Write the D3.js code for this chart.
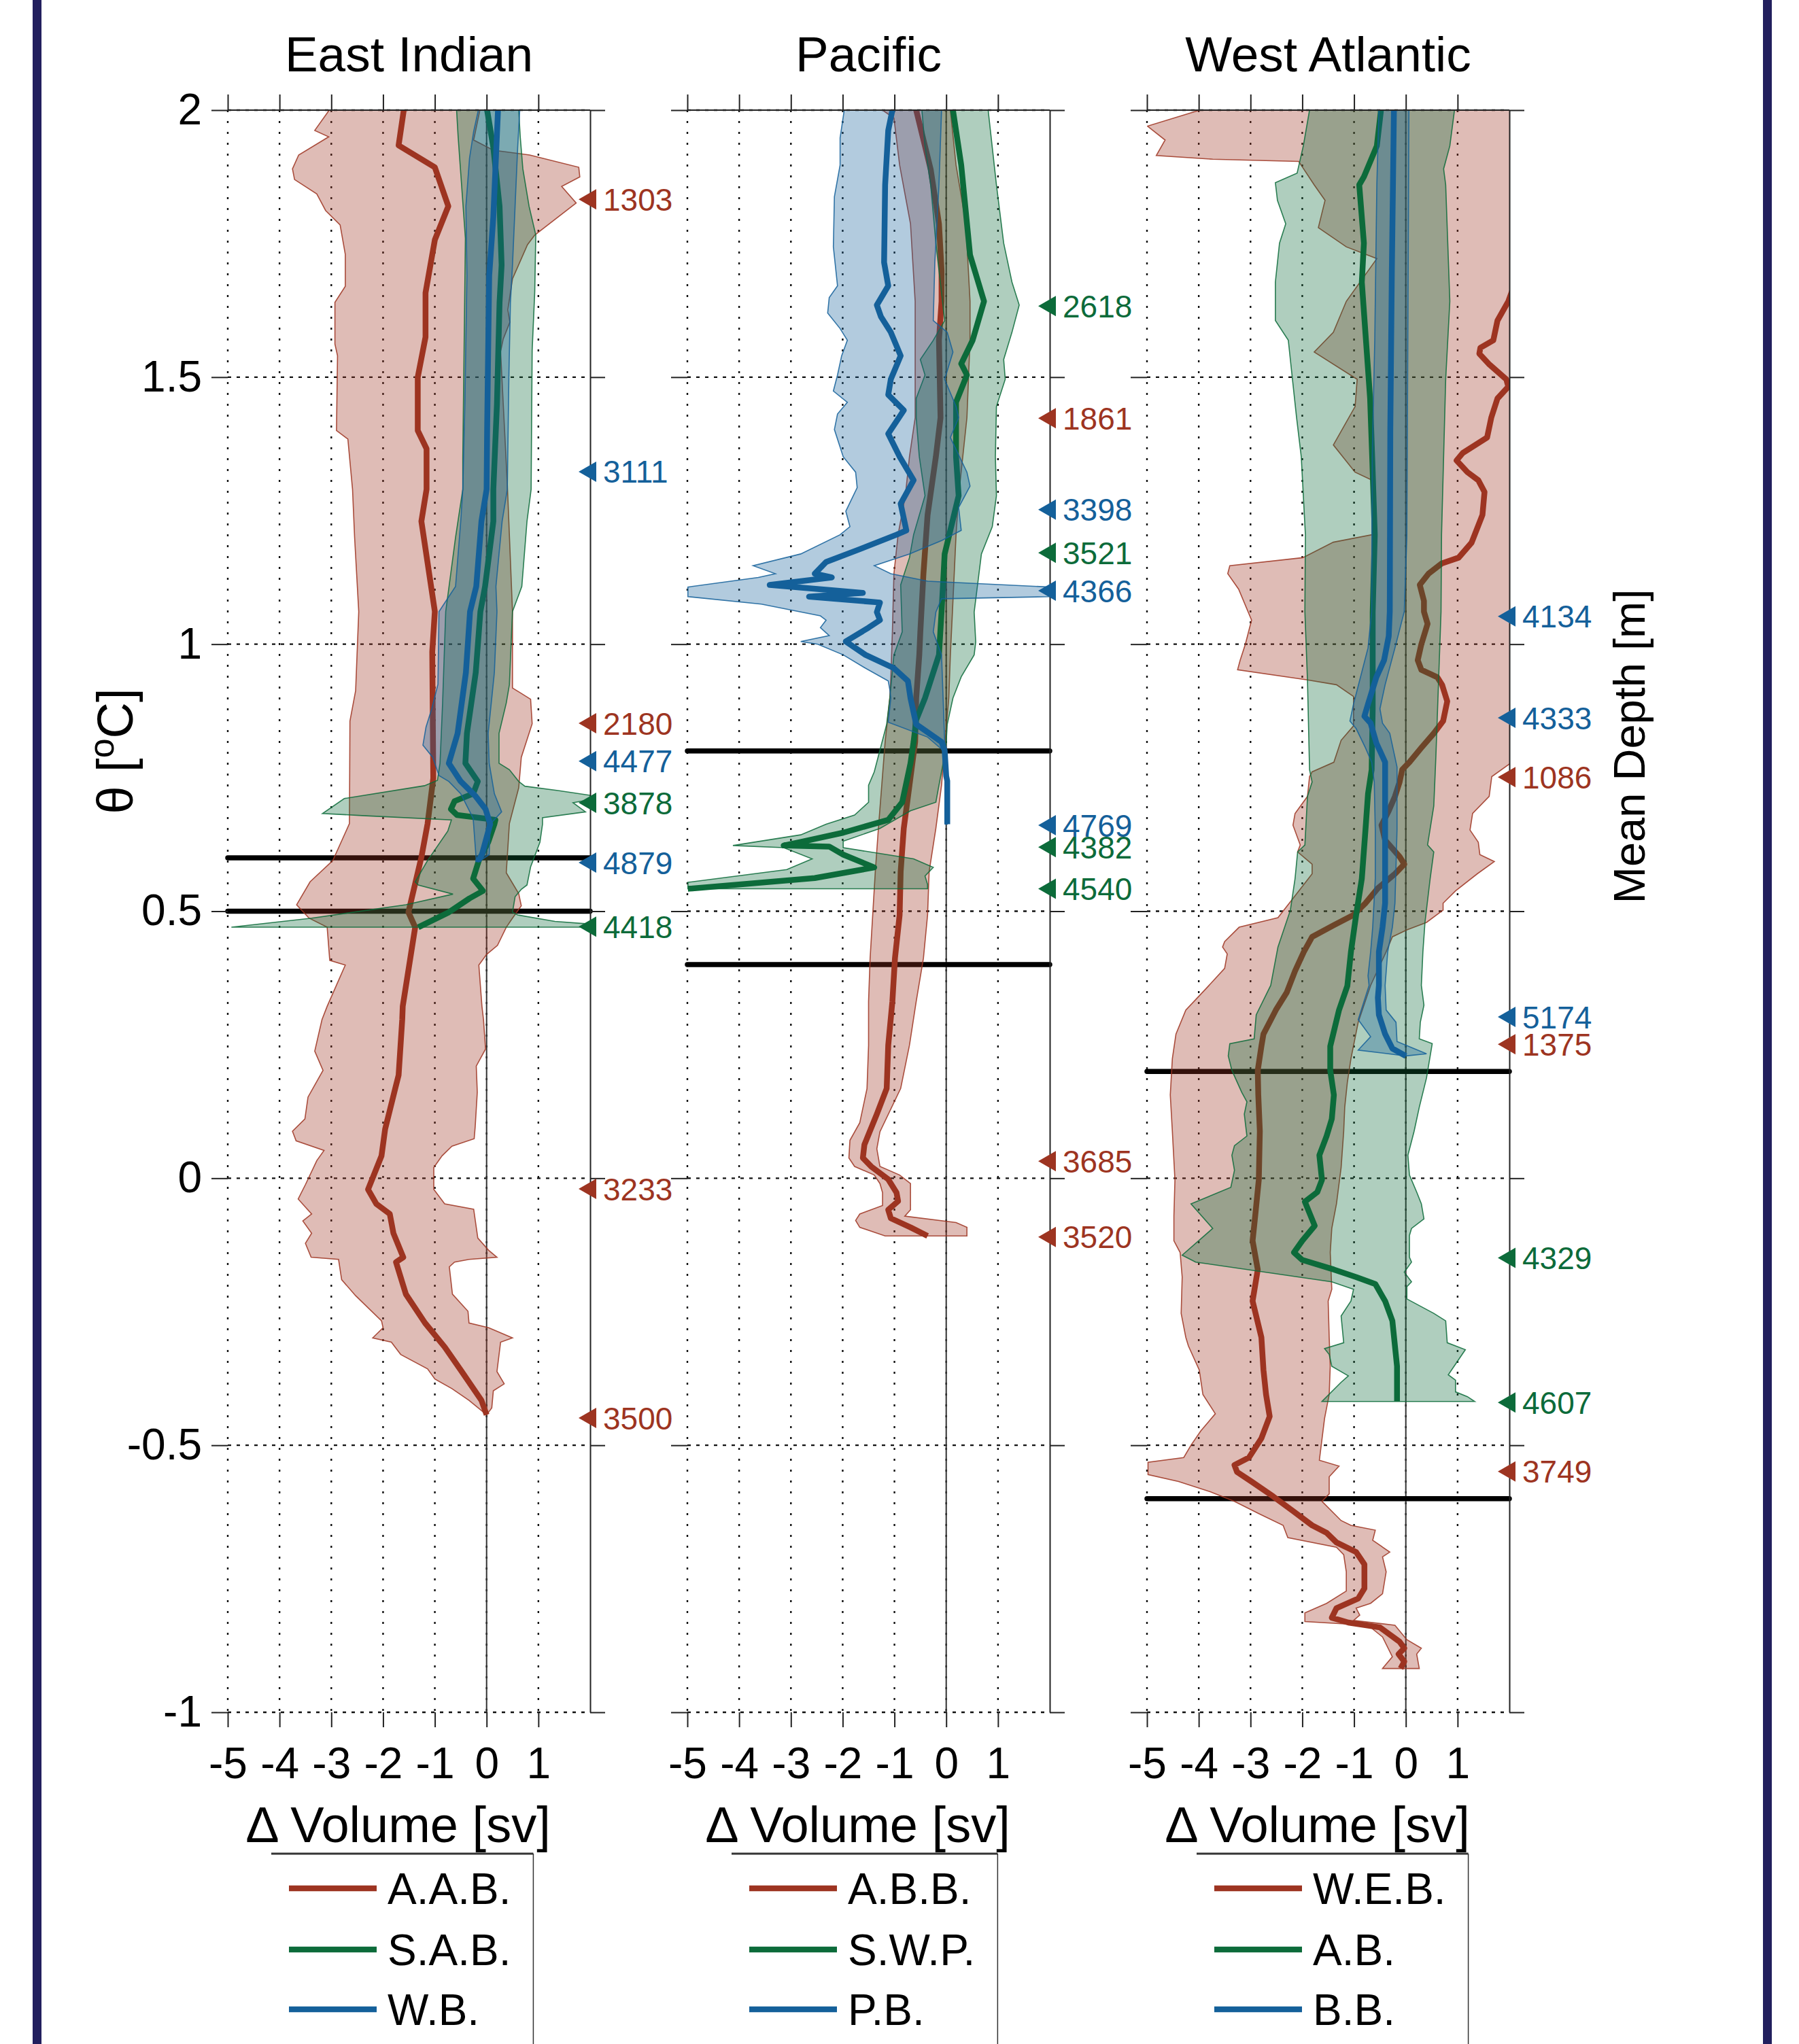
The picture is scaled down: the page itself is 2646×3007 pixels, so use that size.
<!DOCTYPE html>
<html>
<head>
<meta charset="utf-8">
<script src="https://cdn.jsdelivr.net/npm/d3@7"></script>
<style>
html, body { margin: 0; padding: 0; background: #fff; }
svg { display: block; }
text { font-family: "Liberation Sans", Arial, Helvetica, sans-serif; }
</style>
</head>
<body>
<svg id="chart" width="2646" height="3007"></svg>
<script>
// Volume change profiles against potential temperature, three basins.
// Every profile is a list of [theta, value] pairs,
// ordered from warm (top) to cold (bottom).

const xTicks = [-5, -4, -3, -2, -1, 0, 1];
const yTicks = [2, 1.5, 1, 0.5, 0, -0.5, -1];
const seriesColors = ['#9d3421', '#0c6b3a', '#14609a'];

// ---- East Indian ----
const eiRedMean = [[2.0,-1.6],[1.934,-1.70],[1.893,-1.0],[1.82,-0.74],[1.757,-1.0],[1.658,-1.18],[1.575,-1.18],[1.50,-1.33],[1.40,-1.33],[1.366,-1.16],[1.29,-1.16],[1.23,-1.26],[1.061,-1.0],[0.986,-1.05],[0.749,-1.03],[0.664,-1.14],[0.601,-1.26],[0.498,-1.51],[0.47,-1.38],[0.322,-1.62],[0.297,-1.63],[0.193,-1.70],[0.17,-1.76],[0.092,-1.96],[0.042,-2.03],[-0.021,-2.29],[-0.048,-2.13],[-0.067,-1.87],[-0.103,-1.80],[-0.148,-1.61],[-0.157,-1.75],[-0.217,-1.56],[-0.271,-1.19],[-0.316,-0.81],[-0.362,-0.48],[-0.416,-0.10],[-0.443,0.0]];
const eiRedLo = [[2.0,-3.04],[1.962,-3.32],[1.95,-3.05],[1.916,-3.63],[1.89,-3.75],[1.87,-3.71],[1.843,-3.28],[1.812,-3.11],[1.785,-2.83],[1.73,-2.73],[1.67,-2.73],[1.64,-2.93],[1.562,-2.93],[1.54,-2.88],[1.40,-2.9],[1.384,-2.68],[1.29,-2.59],[1.2,-2.55],[1.061,-2.47],[0.913,-2.53],[0.856,-2.64],[0.664,-2.65],[0.595,-2.97],[0.555,-3.41],[0.512,-3.67],[0.487,-3.43],[0.47,-3.08],[0.408,-3.03],[0.399,-2.73],[0.322,-3.08],[0.297,-3.18],[0.238,-3.32],[0.202,-3.16],[0.152,-3.45],[0.111,-3.51],[0.088,-3.75],[0.07,-3.68],[0.052,-3.14],[0.033,-3.28],[-0.012,-3.5],[-0.039,-3.64],[-0.067,-3.38],[-0.08,-3.55],[-0.103,-3.38],[-0.122,-3.5],[-0.148,-3.39],[-0.152,-2.86],[-0.19,-2.80],[-0.22,-2.53],[-0.267,-2.03],[-0.28,-2.0],[-0.299,-2.2],[-0.307,-1.84],[-0.33,-1.66],[-0.357,-1.14],[-0.376,-1.0],[-0.394,-0.67],[-0.416,-0.34],[-0.443,0.0]];
const eiRedHi = [[2.0,-0.13],[1.944,-0.25],[1.925,0.13],[1.916,0.83],[1.893,1.78],[1.875,1.8],[1.857,1.45],[1.826,1.73],[1.766,0.93],[1.748,0.79],[1.684,0.5],[1.626,0.41],[1.603,0.45],[1.571,0.32],[1.548,0.27],[1.3,0.4],[1.061,0.5],[0.918,0.5],[0.897,0.85],[0.851,0.88],[0.788,0.67],[0.731,0.62],[0.664,0.44],[0.572,0.38],[0.533,0.62],[0.51,0.67],[0.487,0.5],[0.47,0.38],[0.436,0.21],[0.419,0.0],[0.399,-0.15],[0.322,-0.09],[0.297,-0.06],[0.242,-0.02],[0.21,-0.2],[0.161,-0.18],[0.097,-0.22],[0.074,-0.24],[0.06,-0.67],[0.042,-0.86],[0.02,-1.02],[-0.021,-1.02],[-0.048,-0.81],[-0.058,-0.25],[-0.112,-0.17],[-0.135,0.04],[-0.148,0.2],[-0.152,-0.34],[-0.157,-0.62],[-0.166,-0.72],[-0.217,-0.66],[-0.249,-0.36],[-0.271,-0.34],[-0.28,0.04],[-0.299,0.5],[-0.307,0.27],[-0.362,0.2],[-0.385,0.34],[-0.398,0.13],[-0.43,0.1],[-0.443,0.0]];
const eiGreenMean = [[2.0,0.01],[1.93,0.13],[1.82,0.25],[1.71,0.29],[1.64,0.25],[1.45,0.2],[1.29,0.13],[1.23,0.13],[1.108,-0.03],[1.061,-0.12],[0.947,-0.21],[0.833,-0.38],[0.777,-0.41],[0.743,-0.17],[0.72,-0.26],[0.706,-0.62],[0.691,-0.69],[0.68,-0.57],[0.671,0.17],[0.663,0.15],[0.629,0.03],[0.595,-0.15],[0.561,-0.26],[0.538,-0.07],[0.524,-0.33],[0.498,-0.73],[0.47,-1.32]];
const eiGreenLo = [[2.0,-0.58],[1.95,-0.55],[1.76,-0.41],[1.35,-0.46],[1.29,-0.46],[1.2,-0.6],[1.061,-0.79],[0.89,-0.85],[0.777,-0.9],[0.745,-0.95],[0.735,-1.2],[0.711,-2.75],[0.683,-3.17],[0.679,-2.4],[0.671,-0.68],[0.65,-0.75],[0.595,-1.14],[0.555,-1.38],[0.549,-1.32],[0.532,-0.65],[0.512,-1.56],[0.487,-3.38],[0.47,-4.93]];
const eiGreenHi = [[2.0,0.62],[1.95,0.65],[1.89,0.7],[1.82,0.82],[1.766,0.95],[1.66,0.93],[1.55,0.88],[1.29,0.86],[1.23,0.78],[1.108,0.68],[1.061,0.5],[0.947,0.45],[0.924,0.44],[0.89,0.38],[0.833,0.24],[0.777,0.24],[0.765,0.44],[0.743,0.62],[0.734,0.74],[0.726,1.38],[0.717,2.0],[0.709,2.0],[0.703,1.67],[0.686,1.91],[0.675,1.08],[0.663,1.08],[0.629,1.03],[0.583,0.85],[0.549,0.78],[0.541,0.67],[0.527,0.55],[0.498,0.5],[0.493,0.6],[0.481,1.32],[0.476,2.0],[0.47,2.0]];
const eiBlueMean = [[2.0,0.22],[1.80,0.13],[1.69,0.05],[1.55,0.03],[1.40,0.01],[1.29,0.0],[1.23,-0.1],[1.108,-0.2],[1.061,-0.32],[0.947,-0.4],[0.833,-0.56],[0.777,-0.73],[0.743,-0.5],[0.715,-0.21],[0.691,-0.02],[0.663,0.07],[0.606,-0.09],[0.595,-0.16],[0.592,-0.16]];
const eiBlueLo = [[2.0,-0.16],[1.96,-0.25],[1.91,-0.33],[1.82,-0.4],[1.69,-0.38],[1.45,-0.42],[1.29,-0.46],[1.23,-0.5],[1.108,-0.6],[1.061,-0.92],[0.925,-0.94],[0.879,-1.06],[0.845,-1.17],[0.811,-1.23],[0.788,-1.04],[0.754,-0.92],[0.743,-0.73],[0.72,-0.5],[0.674,-0.26],[0.595,-0.2],[0.592,-0.16]];
const eiBlueHi = [[2.0,0.64],[1.93,0.6],[1.82,0.55],[1.71,0.5],[1.64,0.46],[1.50,0.43],[1.29,0.4],[1.23,0.3],[1.108,0.18],[1.061,0.2],[0.947,0.15],[0.833,0.03],[0.777,0.05],[0.72,0.15],[0.686,0.29],[0.663,0.07],[0.606,0.05],[0.592,-0.16]];

// ---- Pacific ----
const paRedMean = [[2.0,-0.58],[1.889,-0.30],[1.787,-0.14],[1.70,-0.09],[1.642,-0.09],[1.569,-0.14],[1.424,-0.11],[1.351,-0.20],[1.242,-0.36],[1.132,-0.44],[1.023,-0.5],[0.98,-0.52],[0.899,-0.58],[0.817,-0.6],[0.736,-0.71],[0.655,-0.82],[0.574,-0.88],[0.493,-0.9],[0.412,-0.99],[0.331,-1.04],[0.249,-1.12],[0.168,-1.15],[0.12,-1.34],[0.063,-1.58],[0.038,-1.61],[0.022,-1.45],[-0.002,-1.12],[-0.027,-0.96],[-0.043,-0.93],[-0.059,-1.12],[-0.075,-1.07],[-0.092,-0.69],[-0.108,-0.36]];
const paRedLo = [[2.0,-1.23],[1.985,-1.01],[1.897,-0.9],[1.787,-0.69],[1.642,-0.6],[1.424,-0.6],[1.351,-0.71],[1.278,-0.79],[1.205,-0.93],[1.132,-1.01],[1.023,-1.04],[0.937,-1.07],[0.899,-1.09],[0.817,-1.18],[0.655,-1.31],[0.574,-1.37],[0.493,-1.42],[0.412,-1.47],[0.331,-1.5],[0.249,-1.5],[0.168,-1.53],[0.104,-1.67],[0.071,-1.86],[0.038,-1.88],[0.022,-1.77],[0.006,-1.39],[-0.01,-1.28],[-0.027,-1.23],[-0.051,-1.23],[-0.067,-1.67],[-0.079,-1.75],[-0.092,-1.67],[-0.108,-1.18]];
const paRedHi = [[2.0,0.08],[1.897,0.19],[1.787,0.38],[1.642,0.46],[1.569,0.46],[1.424,0.40],[1.278,0.24],[1.205,0.19],[1.06,0.12],[0.98,0.08],[0.899,0.05],[0.842,0.0],[0.736,-0.09],[0.655,-0.2],[0.574,-0.33],[0.493,-0.36],[0.412,-0.44],[0.331,-0.58],[0.249,-0.71],[0.168,-0.88],[0.087,-1.28],[0.055,-1.34],[0.022,-1.28],[0.006,-0.9],[-0.01,-0.69],[-0.059,-0.69],[-0.071,-0.8],[-0.083,0.19],[-0.092,0.40],[-0.108,0.40]];
const paGreenMean = [[2.0,0.13],[1.897,0.29],[1.729,0.46],[1.642,0.73],[1.569,0.51],[1.525,0.29],[1.504,0.4],[1.453,0.19],[1.351,0.19],[1.278,0.24],[1.169,-0.03],[1.061,-0.09],[0.98,-0.14],[0.899,-0.41],[0.858,-0.58],[0.817,-0.63],[0.777,-0.69],[0.704,-0.85],[0.671,-1.12],[0.647,-1.99],[0.631,-2.75],[0.623,-3.14],[0.621,-2.26],[0.606,-1.99],[0.582,-1.39],[0.562,-2.54],[0.542,-4.99]];
const paGreenLo = [[2.0,-0.47],[1.933,-0.41],[1.86,-0.3],[1.751,-0.2],[1.606,-0.03],[1.569,-0.25],[1.533,-0.5],[1.504,-0.41],[1.46,-0.58],[1.424,-0.58],[1.351,-0.52],[1.278,-0.41],[1.205,-0.63],[1.162,-0.71],[1.111,-0.88],[1.023,-0.85],[0.98,-1.01],[0.899,-1.09],[0.85,-1.15],[0.761,-1.39],[0.736,-1.5],[0.704,-1.5],[0.68,-1.77],[0.663,-2.32],[0.643,-2.81],[0.623,-4.12],[0.619,-3.14],[0.598,-2.59],[0.578,-3.08],[0.554,-4.99],[0.542,-4.99]];
const paGreenHi = [[2.0,0.81],[1.86,0.97],[1.751,1.11],[1.678,1.27],[1.635,1.41],[1.584,1.27],[1.533,1.11],[1.496,1.14],[1.445,0.97],[1.351,0.95],[1.278,0.97],[1.22,0.89],[1.169,0.68],[1.06,0.54],[1.004,0.57],[0.98,0.54],[0.939,0.29],[0.899,0.13],[0.85,0.02],[0.817,0.0],[0.777,-0.06],[0.736,-0.14],[0.704,-0.2],[0.688,-0.69],[0.655,-1.28],[0.631,-1.99],[0.619,-1.99],[0.598,-0.63],[0.582,-0.25],[0.566,-0.41],[0.55,-0.36],[0.542,-0.36]];
const paBlueMean = [[2.0,-1.04],[1.962,-1.12],[1.86,-1.18],[1.715,-1.2],[1.671,-1.12],[1.635,-1.34],[1.613,-1.26],[1.584,-1.07],[1.54,-0.88],[1.496,-1.07],[1.467,-1.12],[1.438,-0.82],[1.394,-1.12],[1.351,-0.9],[1.307,-0.63],[1.263,-0.88],[1.213,-0.77],[1.205,-0.96],[1.176,-1.72],[1.154,-2.32],[1.132,-2.54],[1.125,-2.21],[1.111,-3.41],[1.10,-2.1],[1.096,-1.61],[1.089,-2.65],[1.078,-1.28],[1.06,-1.34],[1.045,-1.28],[1.031,-1.5],[1.005,-1.94],[0.98,-1.56],[0.955,-1.01],[0.931,-0.74],[0.899,-0.69],[0.85,-0.58],[0.817,-0.09],[0.801,-0.03],[0.753,0.0],[0.744,0.02],[0.663,0.02]];
const paBlueLo = [[2.0,-1.97],[1.948,-2.05],[1.897,-2.05],[1.838,-2.16],[1.744,-2.18],[1.671,-2.1],[1.649,-2.26],[1.62,-2.29],[1.591,-2.05],[1.569,-1.91],[1.54,-2.02],[1.504,-2.1],[1.474,-2.18],[1.453,-1.91],[1.431,-2.1],[1.402,-2.16],[1.351,-1.99],[1.322,-1.75],[1.293,-1.72],[1.249,-1.94],[1.22,-1.86],[1.205,-2.05],[1.169,-2.81],[1.147,-3.73],[1.132,-3.3],[1.125,-3.63],[1.107,-4.99],[1.089,-4.99],[1.075,-3.57],[1.053,-2.43],[1.045,-2.32],[1.031,-2.43],[1.016,-2.26],[1.005,-2.81],[1.0,-2.48],[0.98,-1.99],[0.955,-1.56],[0.931,-1.12],[0.915,-1.09],[0.899,-1.07],[0.854,-1.12],[0.826,-0.36],[0.801,-0.06],[0.744,-0.02],[0.663,-0.02]];
const paBlueHi = [[2.0,-0.09],[1.86,-0.14],[1.715,-0.22],[1.606,-0.25],[1.584,0.02],[1.547,0.13],[1.496,-0.03],[1.445,0.19],[1.424,0.24],[1.387,0.08],[1.322,0.4],[1.296,0.46],[1.256,0.24],[1.213,0.29],[1.194,-0.09],[1.169,-0.71],[1.147,-1.39],[1.132,-1.07],[1.118,-0.36],[1.107,2.0],[1.089,2.0],[1.085,-0.09],[1.06,-0.2],[1.023,-0.25],[0.98,-0.09],[0.899,-0.06],[0.817,-0.03],[0.801,0.0],[0.744,0.02],[0.663,0.02]];

// ---- West Atlantic ----
const waRedMean = [[2.0,2.6],[1.7,2.2],[1.642,1.98],[1.606,1.77],[1.569,1.69],[1.555,1.44],[1.544,1.42],[1.525,1.6],[1.496,1.94],[1.482,1.98],[1.46,1.77],[1.424,1.65],[1.387,1.57],[1.358,1.1],[1.344,0.98],[1.322,1.19],[1.307,1.4],[1.285,1.52],[1.242,1.48],[1.19,1.27],[1.162,1.02],[1.151,0.69],[1.132,0.44],[1.111,0.27],[1.081,0.35],[1.061,0.35],[1.038,0.42],[1.0,0.3],[0.97,0.23],[0.952,0.30],[0.938,0.61],[0.924,0.7],[0.893,0.8],[0.856,0.72],[0.833,0.54],[0.806,0.3],[0.779,0.07],[0.765,-0.07],[0.742,-0.12],[0.715,-0.21],[0.688,-0.33],[0.661,-0.47],[0.633,-0.4],[0.602,-0.12],[0.588,-0.03],[0.57,-0.21],[0.543,-0.54],[0.515,-0.78],[0.493,-1.01],[0.474,-1.39],[0.452,-1.81],[0.424,-1.97],[0.388,-2.14],[0.348,-2.3],[0.315,-2.51],[0.27,-2.75],[0.247,-2.79],[0.202,-2.86],[0.156,-2.85],[0.088,-2.82],[-0.003,-2.84],[-0.071,-2.91],[-0.117,-2.96],[-0.171,-2.86],[-0.23,-2.96],[-0.298,-2.79],[-0.359,-2.75],[-0.405,-2.70],[-0.446,-2.63],[-0.487,-2.79],[-0.523,-3.03],[-0.537,-3.31],[-0.55,-3.26],[-0.568,-2.98],[-0.596,-2.56],[-0.623,-2.18],[-0.65,-1.81],[-0.664,-1.53],[-0.682,-1.34],[-0.7,-0.96],[-0.723,-0.8],[-0.768,-0.8],[-0.787,-0.92],[-0.805,-1.34],[-0.823,-1.43],[-0.832,-1.11],[-0.841,-0.5],[-0.868,-0.12],[-0.88,-0.03],[-0.891,-0.14],[-0.905,-0.03],[-0.918,-0.1]];
const waRedLo = [[2.0,-3.98],[1.97,-4.99],[1.944,-4.65],[1.915,-4.82],[1.908,-3.73],[1.904,-2.07],[1.86,-1.77],[1.831,-1.56],[1.78,-1.69],[1.744,-1.15],[1.722,-0.56],[1.642,-1.15],[1.584,-1.4],[1.547,-1.77],[1.496,-0.94],[1.445,-0.98],[1.373,-1.4],[1.322,-0.98],[1.307,-0.65],[1.205,-0.65],[1.191,-1.40],[1.162,-1.99],[1.147,-3.40],[1.132,-3.44],[1.103,-3.23],[1.045,-2.98],[1.0,-3.1],[0.97,-3.2],[0.952,-3.25],[0.933,-1.9],[0.924,-1.34],[0.902,-1.01],[0.847,-1.01],[0.82,-1.25],[0.779,-1.39],[0.761,-1.81],[0.752,-1.86],[0.715,-1.9],[0.683,-2.14],[0.661,-2.18],[0.624,-2.04],[0.611,-2.09],[0.588,-1.81],[0.57,-1.81],[0.524,-2.18],[0.488,-2.47],[0.47,-3.22],[0.443,-3.5],[0.433,-3.54],[0.42,-3.45],[0.393,-3.5],[0.356,-3.85],[0.315,-4.25],[0.27,-4.44],[0.224,-4.51],[0.156,-4.55],[0.088,-4.51],[-0.003,-4.46],[-0.071,-4.48],[-0.117,-4.48],[-0.139,-4.36],[-0.185,-4.32],[-0.253,-4.34],[-0.298,-4.25],[-0.314,-4.2],[-0.359,-3.99],[-0.405,-3.92],[-0.441,-3.68],[-0.473,-3.96],[-0.5,-4.15],[-0.523,-4.29],[-0.532,-4.98],[-0.555,-4.98],[-0.568,-4.39],[-0.587,-3.78],[-0.605,-3.31],[-0.628,-2.84],[-0.65,-2.37],[-0.673,-2.28],[-0.691,-1.34],[-0.705,-1.2],[-0.737,-1.15],[-0.773,-1.15],[-0.796,-1.53],[-0.814,-1.95],[-0.83,-1.95],[-0.837,-0.73],[-0.859,-0.45],[-0.896,-0.26],[-0.918,-0.45]];
const waRedHi = [[2.0,2.5],[0.8,2.5],[0.779,2.05],[0.752,1.66],[0.715,1.61],[0.683,1.29],[0.652,1.24],[0.629,1.4],[0.606,1.43],[0.593,1.71],[0.57,1.38],[0.538,0.96],[0.515,0.72],[0.502,0.72],[0.479,0.4],[0.465,0.02],[0.452,-0.26],[0.424,-0.38],[0.361,-0.68],[0.292,-0.92],[0.224,-1.06],[0.179,-1.13],[0.133,-1.18],[0.088,-1.2],[0.02,-1.25],[-0.048,-1.34],[-0.094,-1.43],[-0.139,-1.46],[-0.208,-1.43],[-0.23,-1.5],[-0.298,-1.48],[-0.352,-1.46],[-0.405,-1.48],[-0.45,-1.57],[-0.528,-1.67],[-0.539,-1.29],[-0.559,-1.48],[-0.591,-1.48],[-0.605,-1.62],[-0.641,-1.25],[-0.65,-1.06],[-0.659,-0.59],[-0.678,-0.64],[-0.7,-0.31],[-0.709,-0.45],[-0.737,-0.38],[-0.778,-0.45],[-0.796,-0.68],[-0.805,-0.96],[-0.818,-0.89],[-0.828,-1.01],[-0.837,-0.21],[-0.864,0.02],[-0.88,0.3],[-0.891,0.21],[-0.918,0.26]];
const waGreenMean = [[2.0,-0.48],[1.933,-0.56],[1.875,-0.81],[1.86,-0.9],[1.751,-0.81],[1.678,-0.85],[1.569,-0.77],[1.46,-0.69],[1.351,-0.65],[1.205,-0.6],[1.06,-0.64],[0.879,-0.64],[0.765,-0.66],[0.72,-0.73],[0.652,-0.78],[0.561,-0.85],[0.493,-0.96],[0.424,-1.06],[0.36,-1.13],[0.315,-1.29],[0.247,-1.46],[0.202,-1.46],[0.156,-1.39],[0.111,-1.43],[0.079,-1.53],[0.043,-1.67],[-0.003,-1.62],[-0.026,-1.71],[-0.044,-1.95],[-0.089,-1.76],[-0.117,-2.0],[-0.139,-2.16],[-0.153,-2.0],[-0.171,-1.39],[-0.185,-0.96],[-0.198,-0.59],[-0.23,-0.4],[-0.267,-0.26],[-0.352,-0.17],[-0.418,-0.17]];
const waGreenLo = [[2.0,-1.86],[1.933,-1.98],[1.882,-2.1],[1.864,-2.52],[1.831,-2.48],[1.787,-2.32],[1.751,-2.44],[1.678,-2.52],[1.606,-2.52],[1.569,-2.27],[1.496,-2.19],[1.424,-2.11],[1.351,-2.02],[1.205,-1.94],[1.061,-1.95],[0.933,-1.9],[0.765,-1.86],[0.742,-1.81],[0.715,-1.9],[0.624,-1.95],[0.611,-2.09],[0.561,-2.14],[0.502,-2.23],[0.433,-2.47],[0.361,-2.61],[0.306,-2.89],[0.261,-2.93],[0.252,-3.4],[0.229,-3.43],[0.202,-3.36],[0.161,-3.17],[0.143,-3.07],[0.12,-3.12],[0.079,-3.07],[0.061,-3.31],[0.043,-3.36],[0.015,-3.31],[-0.017,-3.38],[-0.048,-4.15],[-0.094,-3.73],[-0.144,-4.32],[-0.157,-4.06],[-0.194,-1.43],[-0.208,-1.01],[-0.23,-1.06],[-0.258,-1.25],[-0.308,-1.2],[-0.319,-1.57],[-0.33,-1.48],[-0.352,-1.43],[-0.37,-1.11],[-0.382,-1.25],[-0.418,-1.62]];
const waGreenHi = [[2.0,0.94],[1.933,0.85],[1.89,0.73],[1.86,0.77],[1.642,0.85],[1.496,0.77],[1.351,0.73],[1.205,0.69],[1.061,0.68],[0.924,0.63],[0.788,0.58],[0.697,0.54],[0.624,0.42],[0.611,0.54],[0.561,0.47],[0.479,0.37],[0.424,0.33],[0.361,0.3],[0.324,0.35],[0.292,0.28],[0.261,0.26],[0.252,0.51],[0.188,0.4],[0.133,0.26],[0.088,0.16],[0.043,0.04],[0.006,0.07],[-0.026,0.21],[-0.048,0.3],[-0.076,0.35],[-0.094,0.11],[-0.107,0.07],[-0.148,0.07],[-0.157,0.11],[-0.176,-0.03],[-0.194,0.11],[-0.203,0.02],[-0.226,0.02],[-0.253,0.54],[-0.267,0.77],[-0.308,0.8],[-0.321,1.15],[-0.341,1.01],[-0.368,0.82],[-0.378,0.96],[-0.4,0.96],[-0.409,1.19],[-0.418,1.33]];
const waBlueMean = [[2.0,-0.23],[1.7,-0.27],[1.4,-0.3],[1.061,-0.31],[1.015,-0.33],[0.97,-0.42],[0.938,-0.57],[0.888,-0.73],[0.865,-0.8],[0.852,-0.68],[0.815,-0.57],[0.779,-0.4],[0.6,-0.4],[0.515,-0.4],[0.47,-0.45],[0.424,-0.52],[0.361,-0.52],[0.338,-0.54],[0.306,-0.52],[0.27,-0.4],[0.243,-0.26],[0.229,0.0]];
const waBlueLo = [[2.0,-0.52],[1.86,-0.56],[1.569,-0.6],[1.351,-0.65],[1.061,-0.66],[0.993,-0.73],[0.888,-1.01],[0.856,-1.08],[0.842,-0.96],[0.806,-0.78],[0.779,-0.66],[0.742,-0.61],[0.652,-0.59],[0.561,-0.59],[0.47,-0.64],[0.424,-0.68],[0.379,-0.73],[0.361,-0.71],[0.297,-0.92],[0.265,-0.68],[0.24,-0.92],[0.229,0.0]];
const waBlueHi = [[2.0,0.06],[1.6,0.04],[1.2,0.02],[1.061,-0.03],[0.993,-0.21],[0.924,-0.4],[0.879,-0.5],[0.852,-0.45],[0.833,-0.31],[0.77,-0.17],[0.652,-0.17],[0.515,-0.21],[0.47,-0.26],[0.424,-0.35],[0.361,-0.4],[0.315,-0.38],[0.292,-0.19],[0.256,-0.17],[0.233,0.4],[0.229,0.0]];

// Depth markers on the right axis: [label, theta, series index]
const eiMarkers = [[1303,1.833,0],[3111,1.323,2],[2180,0.852,0],[4477,0.781,2],[3878,0.703,1],[4879,0.591,2],[4418,0.471,1],[3233,-0.02,0],[3500,-0.449,0]];
const paMarkers = [[2618,1.633,1],[1861,1.423,0],[3398,1.252,2],[3521,1.171,1],[4366,1.100,2],[4769,0.661,2],[4382,0.62,1],[4540,0.542,1],[3685,0.032,0],[3520,-0.11,0]];
const waMarkers = [[4134,1.052,2],[4333,0.862,2],[1086,0.751,0],[5174,0.302,2],[1375,0.251,0],[4329,-0.149,1],[4607,-0.42,1],[3749,-0.549,0]];

// Theta limits drawn as thick black lines
const eiCuts = [0.6, 0.5];
const paCuts = [0.8, 0.4];
const waCuts = [0.2, -0.6];

const panelTitles = ['East Indian', 'Pacific', 'West Atlantic'];
const eiLegend = ['A.A.B.', 'S.A.B.', 'W.B.'];
const paLegend = ['A.B.B.', 'S.W.P.', 'P.B.'];
const waLegend = ['W.E.B.', 'A.B.', 'B.B.'];

const panels = [
  { series: [[eiRedMean, eiRedLo, eiRedHi], [eiGreenMean, eiGreenLo, eiGreenHi], [eiBlueMean, eiBlueLo, eiBlueHi]], cuts: eiCuts, markers: eiMarkers, legend: eiLegend },
  { series: [[paRedMean, paRedLo, paRedHi], [paGreenMean, paGreenLo, paGreenHi], [paBlueMean, paBlueLo, paBlueHi]], cuts: paCuts, markers: paMarkers, legend: paLegend },
  { series: [[waRedMean, waRedLo, waRedHi], [waGreenMean, waGreenLo, waGreenHi], [waBlueMean, waBlueLo, waBlueHi]], cuts: waCuts, markers: waMarkers, legend: waLegend }
];

// ---- layout ----
const svg = d3.select('#chart');
const plotTop = 162, plotBottom = 2519, pw = 533;
const lefts = [335, 1011, 1687];
const legendLeft = [64, 65, 73];
const legendRows = [2778, 2868, 2956];

// navy frame on both sides
svg.append('rect').attr('x', 48).attr('y', 0).attr('width', 13).attr('height', 3007).attr('fill', '#221f5e');
svg.append('rect').attr('x', 2593).attr('y', 0).attr('width', 13).attr('height', 3007).attr('fill', '#221f5e');

panels.forEach((p, i) => {
  const x0 = lefts[i], x1 = x0 + pw;
  const x = d3.scaleLinear().domain([-5, 2]).range([x0, x1]);
  const y = d3.scaleLinear().domain([-1, 2]).range([plotBottom, plotTop]);
  const line = d3.line().x(d => x(d[1])).y(d => y(d[0]));
  const g = svg.append('g');

  // dotted grid
  g.selectAll('.vgrid').data(xTicks).enter().append('line')
    .attr('x1', d => x(d)).attr('x2', d => x(d)).attr('y1', plotTop).attr('y2', plotBottom)
    .attr('stroke', '#111').attr('stroke-width', 2.4).attr('stroke-dasharray', '3 13');
  g.selectAll('.hgrid').data(yTicks).enter().append('line')
    .attr('x1', x0).attr('x2', x1).attr('y1', d => y(d)).attr('y2', d => y(d))
    .attr('stroke', '#111').attr('stroke-width', 2.4).attr('stroke-dasharray', '5 8');
  // zero line
  g.append('line').attr('x1', x(0)).attr('x2', x(0)).attr('y1', plotTop).attr('y2', plotBottom)
    .attr('stroke', '#333').attr('stroke-width', 2);
  // theta limits
  g.selectAll('.cut').data(p.cuts).enter().append('line')
    .attr('x1', x(-5)).attr('x2', x(2)).attr('y1', d => y(d)).attr('y2', d => y(d))
    .attr('stroke', '#000').attr('stroke-width', 7.5).attr('stroke-linecap', 'round');

  // profiles, clipped to the axes box
  const clipId = 'clip' + i;
  svg.append('clipPath').attr('id', clipId).append('rect')
    .attr('x', x0).attr('y', plotTop).attr('width', pw).attr('height', plotBottom - plotTop);
  const sg = g.append('g').attr('clip-path', `url(#${clipId})`);
  p.series.forEach((s, k) => {
    const [mean, lo, hi] = s;
    const band = lo.concat(hi.slice().reverse());
    sg.append('path').attr('d', line(band) + 'Z')
      .attr('fill', seriesColors[k]).attr('fill-opacity', 0.33)
      .attr('stroke', seriesColors[k]).attr('stroke-width', 1.6).attr('stroke-opacity', 0.85);
    sg.append('path').attr('d', line(mean)).attr('fill', 'none')
      .attr('stroke', seriesColors[k]).attr('stroke-width', 8.5).attr('stroke-linejoin', 'round');
  });

  // axes
  const styleAxis = a => {
    a.selectAll('.tick line').attr('stroke', '#222').attr('stroke-width', 2);
    a.selectAll('.tick text').attr('font-size', 64).attr('fill', '#000')
      .attr('font-family', '"Liberation Sans", Arial, Helvetica, sans-serif');
  };
  g.append('g').attr('transform', `translate(0,${plotBottom})`)
    .call(d3.axisBottom(x).tickValues(xTicks).tickSize(22).tickPadding(30).tickFormat(d => String(d)))
    .call(a => a.select('.domain').remove()).call(styleAxis);
  g.append('g').attr('transform', `translate(0,${plotTop})`)
    .call(d3.axisTop(x).tickValues(xTicks).tickSize(23).tickFormat(''))
    .call(a => a.select('.domain').remove()).call(styleAxis);
  g.append('g').attr('transform', `translate(${x0},0)`)
    .call(d3.axisLeft(y).tickValues(yTicks).tickSize(24).tickPadding(14).tickFormat(i === 0 ? (d => String(d)) : ''))
    .call(a => a.select('.domain').remove()).call(styleAxis);
  g.append('g').attr('transform', `translate(${x1},0)`)
    .call(d3.axisRight(y).tickValues(yTicks).tickSize(22).tickSizeOuter(0).tickFormat(''))
    .call(a => a.select('.domain').attr('stroke', '#222').attr('stroke-width', 2)).call(styleAxis);
  g.append('line').attr('x1', x0).attr('x2', x1).attr('y1', plotTop).attr('y2', plotTop)
    .attr('stroke', '#222').attr('stroke-width', 2);

  // depth markers
  const mk = g.selectAll('.marker').data(p.markers).enter().append('g');
  mk.append('path')
    .attr('d', d => `M${x1 - 17},${y(d[1])}L${x1 + 9},${y(d[1]) - 15}L${x1 + 9},${y(d[1]) + 15}Z`)
    .attr('fill', d => seriesColors[d[2]]);
  mk.append('text').attr('x', x1 + 19).attr('y', d => y(d[1])).attr('dy', '0.36em')
    .attr('font-family', '"DejaVu Sans", Verdana, sans-serif').attr('font-size', 46)
    .attr('fill', d => seriesColors[d[2]]).text(d => d[0]);

  // title and x label
  g.append('text').attr('x', (x0 + x1) / 2).attr('y', 105).attr('text-anchor', 'middle')
    .attr('font-size', 73).text(panelTitles[i]);
  g.append('text').attr('x', (x0 + x1) / 2 - 16).attr('y', 2710).attr('text-anchor', 'middle')
    .attr('font-size', 74).text('\u0394 Volume [sv]');

  // legend (box is cut by the bottom of the figure)
  const lx = x0 + legendLeft[i];
  const lg = g.append('g');
  const labels = lg.selectAll('text').data(p.legend).enter().append('text')
    .attr('x', lx + 171).attr('y', (d, k) => legendRows[k]).attr('dy', '0.36em')
    .attr('font-size', 64).text(d => d);
  lg.selectAll('.swatch').data(p.legend).enter().append('line')
    .attr('x1', lx + 26).attr('x2', lx + 155).attr('y1', (d, k) => legendRows[k]).attr('y2', (d, k) => legendRows[k])
    .attr('stroke', (d, k) => seriesColors[k]).attr('stroke-width', 8.5);
  let tw = 0;
  labels.each(function () { tw = Math.max(tw, this.getComputedTextLength()); });
  const lr = lx + 171 + tw + 33;
  lg.append('line').attr('x1', lx).attr('x2', lr).attr('y1', 2727).attr('y2', 2727)
    .attr('stroke', '#333').attr('stroke-width', 3);
  lg.append('line').attr('x1', lr).attr('x2', lr).attr('y1', 2727).attr('y2', 3007)
    .attr('stroke', '#333').attr('stroke-width', 1.5);
});

// axis titles
const yl = svg.append('text').attr('transform', 'translate(195,1105) rotate(-90)')
  .attr('text-anchor', 'middle').attr('font-size', 74);
yl.append('tspan').text('\u03b8 [');
yl.append('tspan').attr('font-size', 52).attr('dy', -28).text('o');
yl.append('tspan').attr('dy', 28).text('C]');
svg.append('text').attr('transform', 'translate(2419,1098) rotate(-90)')
  .attr('text-anchor', 'middle').attr('font-size', 65).text('Mean Depth [m]');
</script>
</body>
</html>
